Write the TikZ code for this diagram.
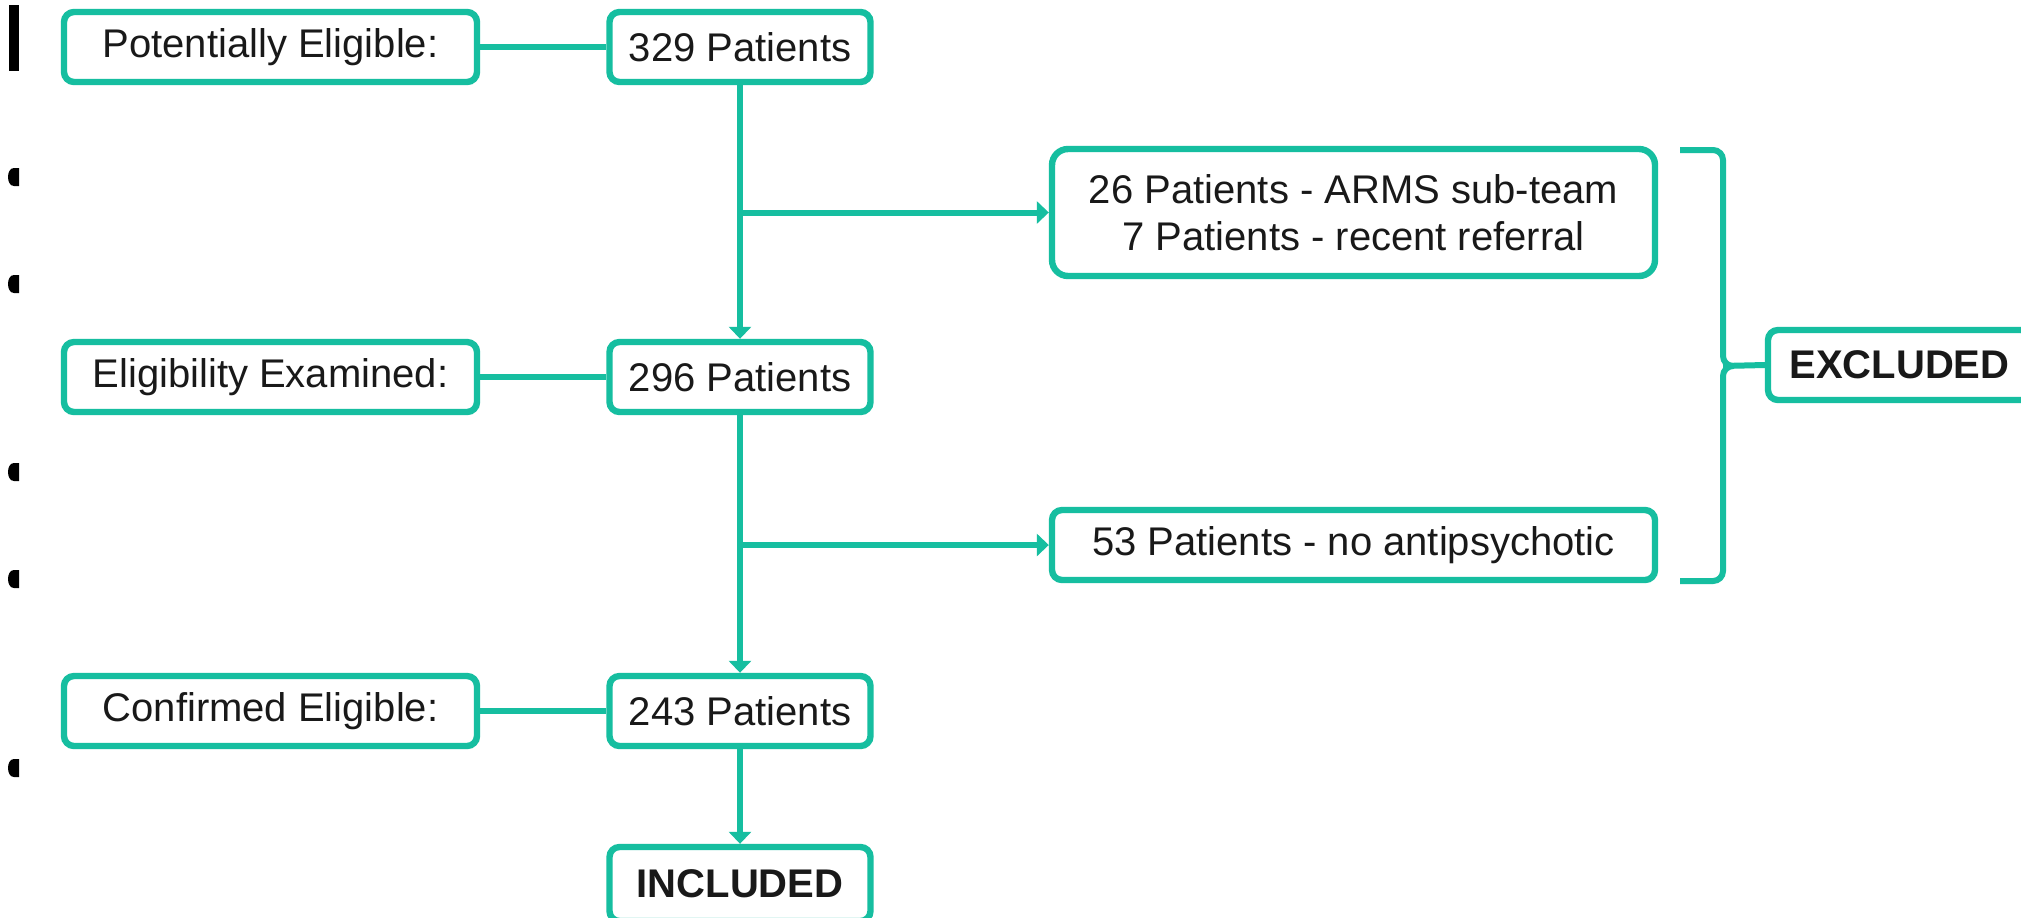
\documentclass[tikz,border=0pt]{standalone}
\usepackage{fontspec}
\setmainfont{Liberation Sans}
\usetikzlibrary{arrows.meta}
\definecolor{teal1}{RGB}{22,190,160}
\tikzset{
  box/.style={draw=teal1, line width=3.2pt, rounded corners=5pt, fill=white,
    minimum height=35pt, inner sep=0pt, align=center, text=black!90,
    font=\fontsize{20pt}{23.5pt}\selectfont},
  lbox/.style={box, minimum width=206.5pt},
  rbox/.style={box, minimum width=130.5pt},
  xbox/.style={box, minimum width=301.5pt},
  conn/.style={draw=teal1, line width=3pt},
  arr/.style={conn, -{Triangle[width=11pt,length=6pt]}},
}
\begin{document}
\begin{tikzpicture}[x=0.5pt, y=-0.5pt]
\clip (0,0) rectangle (2021,917);
\fill[white] (0,0) rectangle (2021,917);

% slide remnants at the left edge
\fill[black] (9,5) rectangle (19,71);
\foreach \c in {177,284,472,579,768}
  \fill[black] (19,\c-9) -- (14,\c-9) .. controls (6,\c-9) and (6,\c+9) .. (14,\c+9) -- (19,\c+9) -- cycle;

% left column
\node[lbox] (pe) at (270.5,47) {Potentially Eligible:};
\node[lbox] (ee) at (270.5,377) {Eligibility Examined:};
\node[lbox] (ce) at (270.5,711) {Confirmed Eligible:};

% centre column
\node[rbox] (n329) at (740,47) {329 Patients};
\node[rbox] (n296) at (740,377) {296 Patients};
\node[rbox] (n243) at (740,711) {243 Patients};
\node[rbox, minimum height=37pt, font=\fontsize{20pt}{23.5pt}\selectfont\bfseries] (inc) at (740,884) {INCLUDED};

% excluded boxes
\node[xbox, minimum height=63.5pt, rounded corners=8pt] (ex1) at (1353.5,212.5) {26 Patients - ARMS sub-team\\7 Patients - recent referral};
\node[xbox] (ex2) at (1353.5,545) {53 Patients - no antipsychotic};
\node[box, minimum width=131.5pt, font=\fontsize{20pt}{23.5pt}\selectfont\bfseries] (excl) at (1899.5,365) {EXCLUDED};

% horizontal links
\draw[conn] (pe) -- (n329);
\draw[conn] (ee) -- (n296);
\draw[conn] (ce) -- (n243);

% vertical flow
\draw[arr] (n329) -- (n296);
\draw[arr] (n296) -- (n243);
\draw[arr] (n243) -- (inc);

% branches to exclusions
\draw[arr] (n329.south |- ex1.west) -- (ex1.west);
\draw[arr] (n296.south |- ex2.west) -- (ex2.west);

% bracket
\coordinate (bt) at (1680,150);
\coordinate (bb) at (1680,581);
\coordinate (bm) at (1723,366);
\draw[conn, rounded corners=5pt] (bt) -| (bm) -- ++(10,0);
\draw[conn, rounded corners=5pt] (bb) -| (bm) -- ++(10,0);
\draw[conn] (bm) -- (excl.west);
\end{tikzpicture}
\end{document}
